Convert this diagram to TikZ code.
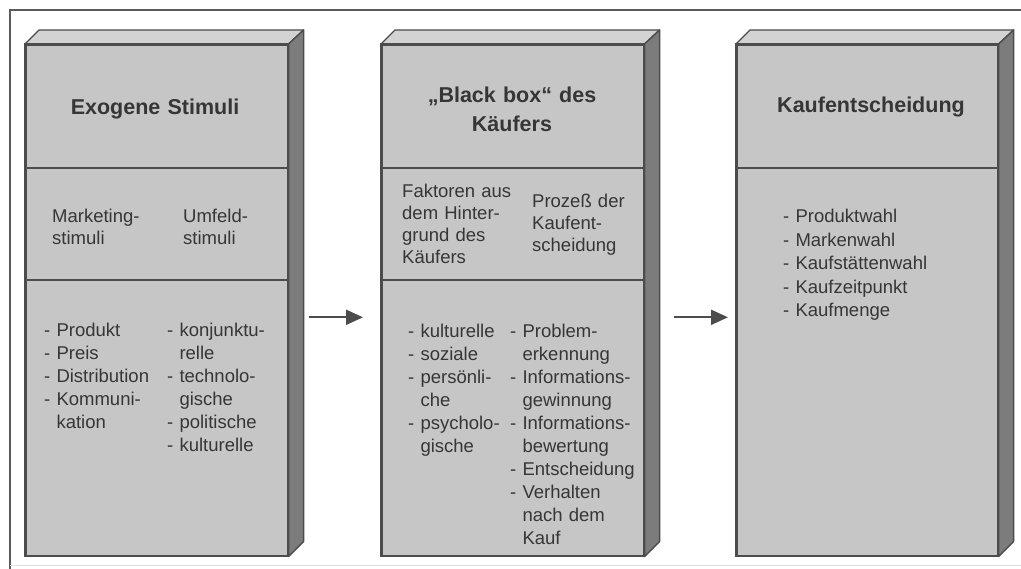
\documentclass[tikz,border=0pt]{standalone}
\usepackage{fontspec}
\setmainfont{Liberation Sans}
\usetikzlibrary{arrows.meta,calc}
\definecolor{facecol}{HTML}{C6C6C6}
\definecolor{topcol}{HTML}{D3D3D3}
\definecolor{sidecol}{HTML}{7C7C7C}
\definecolor{edgecol}{HTML}{4C4C4C}
\definecolor{txtcol}{HTML}{363636}
\definecolor{framecol}{HTML}{5A5A5A}
\begin{document}
\begin{tikzpicture}[x=1pt,y=-1pt,
  face/.style={draw=edgecol, fill=facecol, line width=1.6pt, inner sep=0pt,
    minimum width=262pt, minimum height=511pt, anchor=north west},
  topface/.style={draw=edgecol, fill=topcol, line width=1.4pt, line join=round},
  sideface/.style={draw=edgecol, fill=sidecol, line width=1.4pt, line join=round},
  divider/.style={draw=edgecol, line width=1.6pt},
  arr/.style={draw=edgecol, line width=2pt, -{Triangle[length=17pt,width=15pt]}},
  frameline/.style={draw=framecol, line width=2.2pt},
  title/.style={font=\bfseries\fontsize{21.5}{29}\selectfont, text=txtcol, inner sep=0pt,
    anchor=base, align=center, text width=250pt},
  body/.style={font=\fontsize{18.5}{23}\selectfont, text=txtcol, inner sep=0pt,
    anchor=base west, align=left, text width=150pt},
  bodyb/.style={body, font=\fontsize{18.5}{22}\selectfont}
]
\useasboundingbox (0,0) rectangle (1021,569);
\fill[white] (0,0) rectangle (1021,569);
% frame
\draw[frameline] (10,569) -- (10,10) -- (1021,10);
\draw[gray!25, line width=1pt] (10,565) -- (1021,565);

% boxes (front faces)
\node[face] (b1) at (25,44) {};
\node[face] (b2) at (381,44) {};
\node[face, minimum width=261pt] (b3) at (736,44) {};

\foreach \b in {b1,b2,b3}{
  \draw[topface] (\b.north west) -- ++(14,-14) -- ($(\b.north east)+(15,-14)$) -- (\b.north east) -- cycle;
  \draw[sideface] (\b.north east) -- ++(15,-14) -- ($(\b.south east)+(15,-15)$) -- (\b.south east) -- cycle;
  \draw[face, fill=none] (\b.north west) rectangle (\b.south east);
}

% dividers
\draw[divider] (b1.west |- 0,168) -- (b1.east |- 0,168);
\draw[divider] (b1.west |- 0,280) -- (b1.east |- 0,280);
\draw[divider] (b2.west |- 0,168) -- (b2.east |- 0,168);
\draw[divider] (b2.west |- 0,280) -- (b2.east |- 0,280);
\draw[divider] (b3.west |- 0,168) -- (b3.east |- 0,168);

% arrows
\draw[arr, shorten <=20pt, shorten >=18pt] ([yshift=-17pt]b1.east) -- ([yshift=-17pt]b2.west);
\draw[arr, shorten <=29pt, shorten >=8pt] ([yshift=-17pt]b2.east) -- ([yshift=-17pt]b3.west);

% titles
\node[title] (t1) at (155,115) {Exogene Stimuli};
\node[title] (t2) at (512,103) {„Black box“ des\\Käufers};
\node[title] (t3) at (871,113) {Kaufentscheidung};

% box 1
\node[bodyb] (m1a) at (52,223) {Marketing-\\stimuli};
\node[bodyb] (m1b) at (183,223) {Umfeld-\\stimuli};
\node[body] (l1a) at (44,337) {- Produkt\\- Preis\\- Distribution\\- Kommuni-\\\phantom{- }kation};
\node[body] (l1b) at (167,337) {- konjunktu-\\\phantom{- }relle\\- technolo-\\\phantom{- }gische\\- politische\\- kulturelle};

% box 2
\node[bodyb] (m2a) at (402,198) {Faktoren aus\\dem Hinter-\\grund des\\Käufers};
\node[bodyb] (m2b) at (532,208) {Prozeß der\\Kaufent-\\scheidung};
\node[body] (l2a) at (408,338) {- kulturelle\\- soziale\\- persönli-\\\phantom{- }che\\- psycholo-\\\phantom{- }gische};
\node[body] (l2b) at (510,338) {- Problem-\\\phantom{- }erkennung\\- Informations-\\\phantom{- }gewinnung\\- Informations-\\\phantom{- }bewertung\\- Entscheidung\\- Verhalten\\\phantom{- }nach dem\\\phantom{- }Kauf};

% box 3
\node[body, font=\fontsize{18.5}{23.5}\selectfont] (l3) at (783,223) {- Produktwahl\\- Markenwahl\\- Kaufstättenwahl\\- Kaufzeitpunkt\\- Kaufmenge};
\end{tikzpicture}
\end{document}
